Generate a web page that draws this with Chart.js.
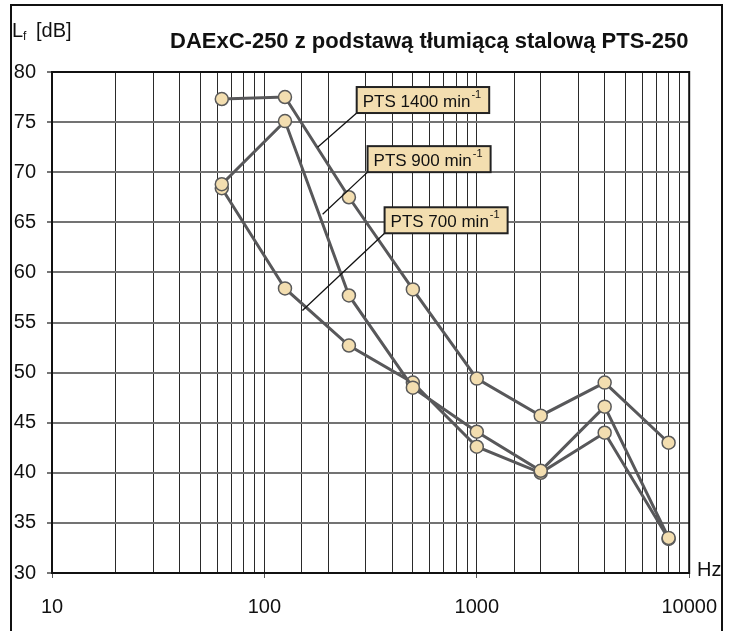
<!DOCTYPE html>
<html lang="pl">
<head>
<meta charset="UTF-8">
<title>DAExC-250 z podstawą tłumiącą stalową PTS-250</title>
<script src="https://cdn.jsdelivr.net/npm/chart.js"></script>
<style>
  html, body { margin: 0; padding: 0; background: #fff; }
</style>
</head>
<body>
<canvas id="myChart" width="734" height="631"></canvas>
<script>
// dane
const frequencies = [63, 125, 250, 500, 1000, 2000, 4000, 8000];
const pts1400 = [77.3, 77.5, 67.5, 58.3, 49.4, 45.7, 49.0, 43.0];
const pts900 = [68.8, 75.1, 57.7, 48.5, 44.1, 40.2, 46.6, 33.5];
const pts700 = [68.4, 58.4, 52.7, 49.0, 42.6, 40.0, 44.0, 33.4];
const seriesLabels = ['PTS 1400 min', 'PTS 900 min', 'PTS 700 min'];
const xMajorTicks = [10, 100, 1000, 10000];

// etykiety: lewy górny róg ramki i koniec linii odnośnika (w jednostkach osi)
const calloutBox = [[272, 78.5], [306, 72.6], [368, 66.5]];
const calloutTarget = [[178, 72.5], [188, 65.8], [151, 56.2]];

const FONT = "'Liberation Sans', Arial, sans-serif";
const pointFill = '#f3deb0';
const lineGrey = '#58585a';

function toXY(values) {
    return frequencies.map((f, i) => ({ x: f, y: values[i] }));
}

function isMajor(v) {
    return xMajorTicks.includes(v);
}

const decorPlugin = {
    id: 'decor',
    afterDraw(chart) {
        const ctx = chart.ctx;
        const area = chart.chartArea;
        const xs = chart.scales.x;
        const ys = chart.scales.y;
        ctx.save();

        // ramka obszaru wykresu
        ctx.strokeStyle = '#111';
        ctx.lineWidth = 2;
        ctx.strokeRect(area.left, area.top, area.right - area.left, area.bottom - area.top);

        // odnośniki i ramki z opisami
        seriesLabels.forEach((txt, i) => {
            const bx = xs.getPixelForValue(calloutBox[i][0]);
            const by = ys.getPixelForValue(calloutBox[i][1]);
            ctx.font = '17px ' + FONT;
            const w1 = ctx.measureText(txt).width;
            ctx.font = '11px ' + FONT;
            const w2 = ctx.measureText('-1').width;
            const bw = w1 + w2 + 15;
            const bh = 26;

            ctx.strokeStyle = '#111';
            ctx.lineWidth = 1.3;
            ctx.beginPath();
            ctx.moveTo(bx, by + bh);
            ctx.lineTo(xs.getPixelForValue(calloutTarget[i][0]), ys.getPixelForValue(calloutTarget[i][1]));
            ctx.stroke();

            ctx.fillStyle = pointFill;
            ctx.fillRect(bx, by, bw, bh);
            ctx.lineWidth = 2;
            ctx.strokeStyle = '#222';
            ctx.strokeRect(bx, by, bw, bh);

            ctx.fillStyle = '#111';
            ctx.textBaseline = 'alphabetic';
            ctx.textAlign = 'left';
            ctx.font = '17px ' + FONT;
            ctx.fillText(txt, bx + 6, by + 20);
            ctx.font = '11px ' + FONT;
            ctx.fillText('-1', bx + 6 + w1 + 1, by + 11);
        });

        // tytuł
        ctx.fillStyle = '#111';
        ctx.font = 'bold 22px ' + FONT;
        ctx.textAlign = 'left';
        ctx.textBaseline = 'alphabetic';
        ctx.fillText('DAExC-250 z podstawą tłumiącą stalową PTS-250', 170, 48);

        // opis osi Y
        ctx.font = '20px ' + FONT;
        ctx.fillText('L', 12, 37);
        const lw = ctx.measureText('L').width;
        ctx.font = '12px ' + FONT;
        ctx.fillText('f', 12 + lw, 40);
        ctx.font = '20px ' + FONT;
        ctx.fillText('[dB]', 36, 37);

        // opis osi X
        ctx.fillText('Hz', 697, 576);

        // ramka całego rysunku
        ctx.strokeStyle = '#111';
        ctx.lineWidth = 2;
        ctx.strokeRect(11, 5, 711, 700);
        ctx.restore();
    }
};

const common = {
    borderColor: lineGrey,
    borderWidth: 3,
    pointRadius: 6.5,
    pointHoverRadius: 6.5,
    pointBackgroundColor: pointFill,
    pointBorderColor: '#5a5a5a',
    pointBorderWidth: 1.5,
    tension: 0,
    fill: false
};

const ctx = document.getElementById('myChart').getContext('2d');
const myChart = new Chart(ctx, {
    type: 'line',
    data: {
        datasets: [
            Object.assign({ label: seriesLabels[0], data: toXY(pts1400) }, common),
            Object.assign({ label: seriesLabels[1], data: toXY(pts900) }, common),
            Object.assign({ label: seriesLabels[2], data: toXY(pts700) }, common)
        ]
    },
    options: {
        responsive: false,
        animation: false,
        layout: { padding: { top: 72, right: 44, left: 0, bottom: 0 } },
        plugins: {
            legend: { display: false },
            tooltip: { enabled: false },
            title: { display: false }
        },
        scales: {
            x: {
                type: 'logarithmic',
                min: 10,
                max: 10000,
                afterFit(scale) { scale.height = 58; },
                grid: {
                    color: '#2a2a2a',
                    lineWidth: 1,
                    tickLength: 5,
                    tickColor: (c) => (c.tick && isMajor(c.tick.value)) ? '#555' : 'rgba(0,0,0,0)'
                },
                border: { color: '#111', width: 2 },
                ticks: {
                    autoSkip: false,
                    maxRotation: 0,
                    padding: 17,
                    color: '#111',
                    font: { family: FONT, size: 20 },
                    callback: (v) => isMajor(v) ? String(v) : ''
                }
            },
            y: {
                min: 30,
                max: 80,
                afterFit(scale) { scale.width = 52; },
                grid: {
                    color: '#737373',
                    lineWidth: 2,
                    tickLength: 5,
                    tickColor: '#777'
                },
                border: { color: '#111', width: 2 },
                ticks: {
                    stepSize: 5,
                    padding: 11,
                    color: '#111',
                    font: { family: FONT, size: 20 }
                }
            }
        }
    },
    plugins: [decorPlugin]
});
</script>
</body>
</html>
